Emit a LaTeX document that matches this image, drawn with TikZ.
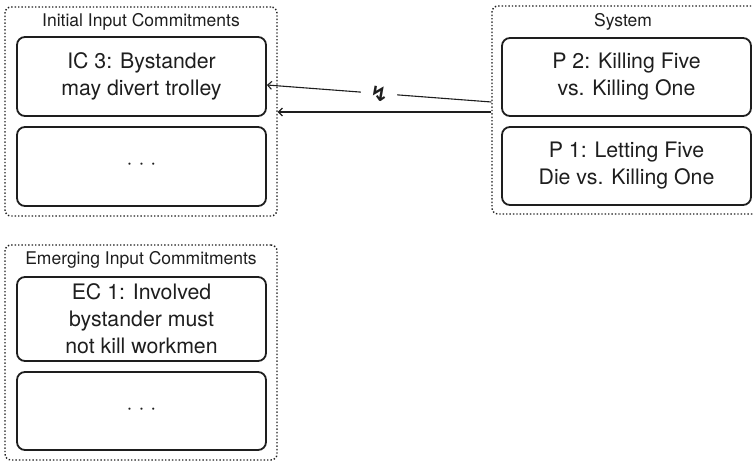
\documentclass[tikz,border=0pt]{standalone}
\usepackage{fontspec}
\setmainfont{TeX Gyre Heros}
\newfontfamily\symfont{DejaVu Sans}
\usepackage{tikz}
\usetikzlibrary{arrows.meta,positioning,calc}
\definecolor{ink}{RGB}{30,30,30}

\begin{document}
\begin{tikzpicture}[x=1pt, y=1pt,
    group/.style={rectangle, rounded corners=6pt, draw=ink, dotted,
        line width=1.4pt, minimum width=272pt, inner sep=0pt},
    grouptitle/.style={font=\fontsize{17.5}{20}\selectfont, text=ink},
    commit/.style={rectangle, rounded corners=8pt, draw=ink, line width=1.8pt,
        minimum width=249pt, font=\fontsize{21.3}{27}\selectfont, text=ink,
        align=center, inner sep=0pt},
    conflict/.style={-{Straight Barb[length=4pt, width=8pt]}, line width=1.1pt, draw=ink}
]
\useasboundingbox (0,0) rectangle (753,463);
\clip (0,0) rectangle (753,463);

% groups
\node[group, minimum height=209pt] (initial) at (141,351.5) {};
\node[group, minimum height=215pt] (emerging) at (141,110.5) {};
\node[group, minimum height=208pt] (system) at (628,353) {};

\node[grouptitle] (initialtitle) at (141,441) {Initial Input Commitments};
\node[grouptitle] (emergingtitle) at (141,203) {Emerging Input Commitments};
\node[grouptitle] (systemtitle) at (623,441) {System};

% commitments
\node[commit, minimum height=79pt] (ic3) at (141.5,386.5) {IC 3: Bystander\\may divert trolley};
\node[commit, minimum height=79pt] (icdots) at (141.5,296.5) {· · ·};
\node[commit, minimum height=84pt] (ec1) at (141.5,144) {EC 1: Involved\\bystander must\\not kill workmen};
\node[commit, minimum height=78pt] (ecdots) at (141.5,52) {· · ·};

% principles
\node[commit, minimum height=78pt] (p2) at (626.5,386) {P 2: Killing Five\\vs. Killing One};
\node[commit, minimum height=78pt] (p1) at (626.5,297) {P 1: Letting Five\\Die vs. Killing One};

% arrows
\draw[conflict] ([yshift=8pt]system.west) -- node[fill=white, inner xsep=9pt, inner ysep=1pt, text=ink, font=\symfont\bfseries\fontsize{21}{21}\selectfont] (bolt) {↯} ([yshift=-8.5pt]ic3.east);
\draw[conflict] ([yshift=-2pt]system.west) -- ([yshift=-2pt]system.west -| initial.east);

\end{tikzpicture}
\end{document}
